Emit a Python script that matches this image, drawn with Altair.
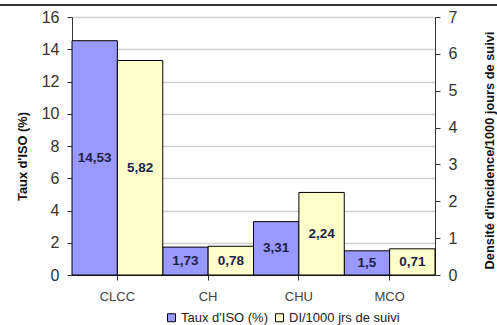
import altair as alt
import pandas as pd

# Surgical-site infection figures by type of facility
categories = ["CLCC", "CH", "CHU", "MCO"]
iso_rate = [14.53, 1.73, 3.31, 1.5]          # Taux d'ISO (%)
di_density = [5.82, 0.78, 2.24, 0.71]        # DI / 1000 jours de suivi
iso_labels = ["14,53", "1,73", "3,31", "1,5"]
di_labels = ["5,82", "0,78", "2,24", "0,71"]

series = ["Taux d'ISO (%)", "DI/1000 jrs de suivi"]
colors = ["#9999FF", "#FFFFCC"]

rows = []
for c, v, l in zip(categories, iso_rate, iso_labels):
    rows.append({"cat": c, "serie": series[0], "value": v, "label": l})
for c, v, l in zip(categories, di_density, di_labels):
    rows.append({"cat": c, "serie": series[1], "value": v, "label": l})
df = pd.DataFrame(rows)

FONT = "Liberation Sans"

x_axis = alt.Axis(labelAngle=0, labelFontSize=13, labelColor="#444444",
                  labelPadding=10, tickSize=5, domainColor="#333333",
                  tickColor="#333333", labelFont=FONT, grid=False)
x_scale = alt.Scale(paddingInner=0, paddingOuter=0)
xoff = alt.XOffset("serie:N", sort=series,
                   scale=alt.Scale(domain=series, paddingInner=0, paddingOuter=0))
color_enc = alt.Color(
    "serie:N", sort=series,
    scale=alt.Scale(domain=series, range=colors),
    legend=alt.Legend(
        title=None, orient="none", direction="horizontal",
        legendX=93, legendY=294, symbolType="square", symbolSize=64,
        symbolStrokeColor="black", symbolStrokeWidth=1, symbolOpacity=1,
        labelFontSize=13, labelColor="#222222", labelFont=FONT,
        labelOffset=3, columnPadding=4,
    ),
)


def series_layer(name, domain, tick_step, orient, title, title_pad, title_y, grid):
    y_scale = alt.Scale(domain=domain, nice=False, zero=True)
    y_axis = alt.Axis(
        orient=orient, values=list(range(domain[0], domain[1] + 1, tick_step)),
        labelOverlap=False,
        title=title, titleFontSize=12.8, titleFontWeight="bold",
        titleFont=FONT, titleColor="#111111", titlePadding=title_pad,
        titleAngle=270, titleY=title_y,
        labelFontSize=16, labelColor="#333333", labelFont=FONT,
        labelPadding=8, tickSize=5, tickColor="#333333",
        domainColor="#333333", grid=grid, gridColor="#D0D0D0",
        gridWidth=1.5,
    )
    base = alt.Chart(df).transform_filter(alt.datum.serie == name)
    bars = base.mark_bar(stroke="black", strokeWidth=1, opacity=1).encode(
        x=alt.X("cat:N", sort=categories, title=None, scale=x_scale, axis=x_axis),
        xOffset=xoff,
        y=alt.Y("value:Q", title=title, scale=y_scale, axis=y_axis),
        color=color_enc,
    )
    # value labels sit halfway up each bar
    text = base.transform_calculate(mid="datum.value / 2").mark_text(
        fontSize=13.5, fontWeight="bold", color="#1e1e4a", font=FONT,
        baseline="middle",
    ).encode(
        x=alt.X("cat:N", sort=categories, title=None, scale=x_scale, axis=x_axis),
        xOffset=xoff,
        y=alt.Y("mid:Q", title=title, scale=y_scale, axis=y_axis),
        text="label:N",
    )
    return alt.layer(bars, text)


left = series_layer(series[0], [0, 16], 2, "left", "Taux d'ISO (%)", 12, 139, True)
right = series_layer(series[1], [0, 7], 1, "right",
                     "Densité d'incidence/1000 jours de suivi", 40, 133, False)

# Border of the table cell sitting above the figure
top_rule = alt.Chart(df).mark_rule(color="#333333", strokeWidth=2).encode(
    x=alt.value(-72), x2=alt.value(425), y=alt.value(-12)
)

chart = (
    alt.layer(left, right, top_rule)
    .resolve_scale(y="independent")
    .properties(
        width=363, height=258,
        autosize=alt.AutoSizeParams(type="none"),
        padding={"left": 72, "top": 17, "right": 62, "bottom": 50},
        background="white",
    )
    .configure_view(stroke=None)
)

chart.save("out.html", embed_options={"renderer": "svg", "actions": False})
